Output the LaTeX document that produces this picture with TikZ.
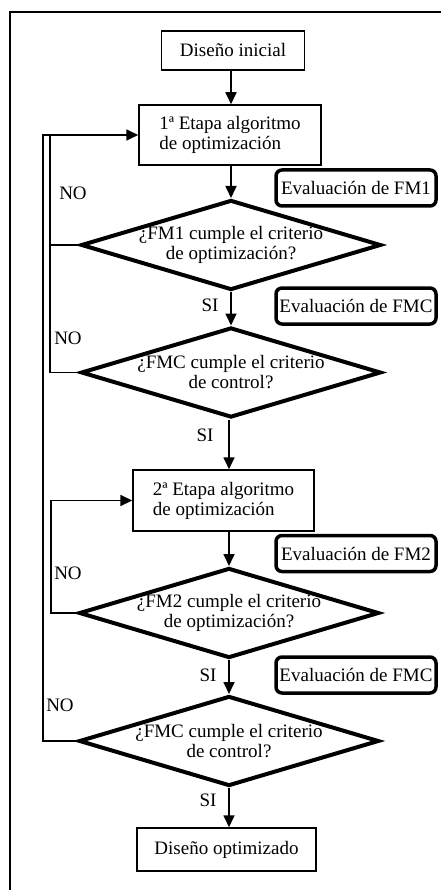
\documentclass[tikz,border=0pt]{standalone}
\usepackage{fontspec}
\setmainfont{Liberation Serif}
\usetikzlibrary{arrows.meta,shapes.geometric}
\begin{document}
\begin{tikzpicture}[x=1pt,y=-1pt,
  every node/.style={font=\fontsize{19}{20}\selectfont, inner sep=0pt},
  procbox/.style={draw, line width=1.5pt, rectangle},
  evalbox/.style={draw, line width=3.5pt, rounded corners=6pt, minimum width=160pt, minimum height=36pt},
  dia/.style={draw, diamond, line width=4pt, minimum width=300pt, minimum height=90pt},
  dtext/.style={align=center},
  conn/.style={line width=1.7pt},
  arr/.style={conn, -{Triangle[length=12pt,width=11pt]}},
  lbl/.style={}
]
\useasboundingbox (0,0) rectangle (441,890);
% frame
\coordinate (ftr) at (441,12);
\coordinate (ftl) at (10,12);
\coordinate (fbl) at (10,890);
\draw[line width=1.5pt] (ftr) -- (ftl) -- (fbl);

% main nodes
\node[procbox, minimum width=143pt, minimum height=39pt] (start) at (233,50.5) {Diseño inicial};
\node[procbox, minimum width=182pt, minimum height=60pt, align=left] (e1) at (230,135) {1ª Etapa algoritmo\\de optimización};
\node[evalbox] (ev1) at (356,188) {Evaluación de FM1};
\node[dia] (d1) at (231,245) {};
\node[dtext] (t1) at (d1) {¿FM1 cumple el criterio\\de optimización?};
\node[evalbox] (ev2) at (356,306) {Evaluación de FMC};
\node[dia] (d2) at (231,372.5) {};
\node[dtext] (t2) at (d2) {¿FMC cumple el criterio\\de control?};
\node[procbox, minimum width=181pt, minimum height=61pt, align=left] (e2) at (223.5,500.5) {2ª Etapa algoritmo\\de optimización};
\node[evalbox] (ev3) at (356,553.5) {Evaluación de FM2};
\node[dia] (d3) at (229,613) {};
\node[dtext] (t3) at (d3) {¿FM2 cumple el criterio\\de optimización?};
\node[evalbox] (ev4) at (356,675) {Evaluación de FMC};
\node[dia] (d4) at (229,741) {};
\node[dtext] (t4) at (d4) {¿FMC cumple el criterio\\de control?};
\node[procbox, minimum width=179pt, minimum height=43pt] (end) at (226.5,849.5) {Diseño optimizado};

% forward arrows
\draw[arr] (start.south -| d1) -- (e1.north -| d1);
\draw[arr] (e1.south -| d1) -- (d1.north);
\draw[arr] (d1.south) -- (d2.north);
\draw[arr] (d2.south -| d3) -- (e2.north -| d3);
\draw[arr] (e2.south -| d3) -- (d3.north);
\draw[arr] (d3.south) -- (d4.north);
\draw[arr] (d4.south) -- (end.north -| d4);

% labels
\node[lbl] (si1) at (210,305) {SI};
\node[lbl] (si2) at (205,435) {SI};
\node[lbl] (si3) at (208,675) {SI};
\node[lbl] (si4) at (208,800) {SI};
\node[lbl] (no1) at (73,193) {NO};
\node[lbl] (no2) at (68,338) {NO};
\node[lbl] (no3) at (68,573) {NO};
\node[lbl] (no4) at (60,705) {NO};

% feedback loops
\coordinate (lx1) at (50,0);
\coordinate (lx2) at (51,0);
\coordinate (lx0) at (43,0);
\draw[arr] (d2.west) -| (lx1 |- e1.west) -- (e1.west);
\draw[conn] (d1.west) -- (d1.west -| lx1);
\draw[conn] (d4.west) -| (lx0 |- e1.west) -- (lx1 |- e1.west);
\draw[arr] (d3.west) -| (lx2 |- e2.west) -- (e2.west);
\end{tikzpicture}
\end{document}
